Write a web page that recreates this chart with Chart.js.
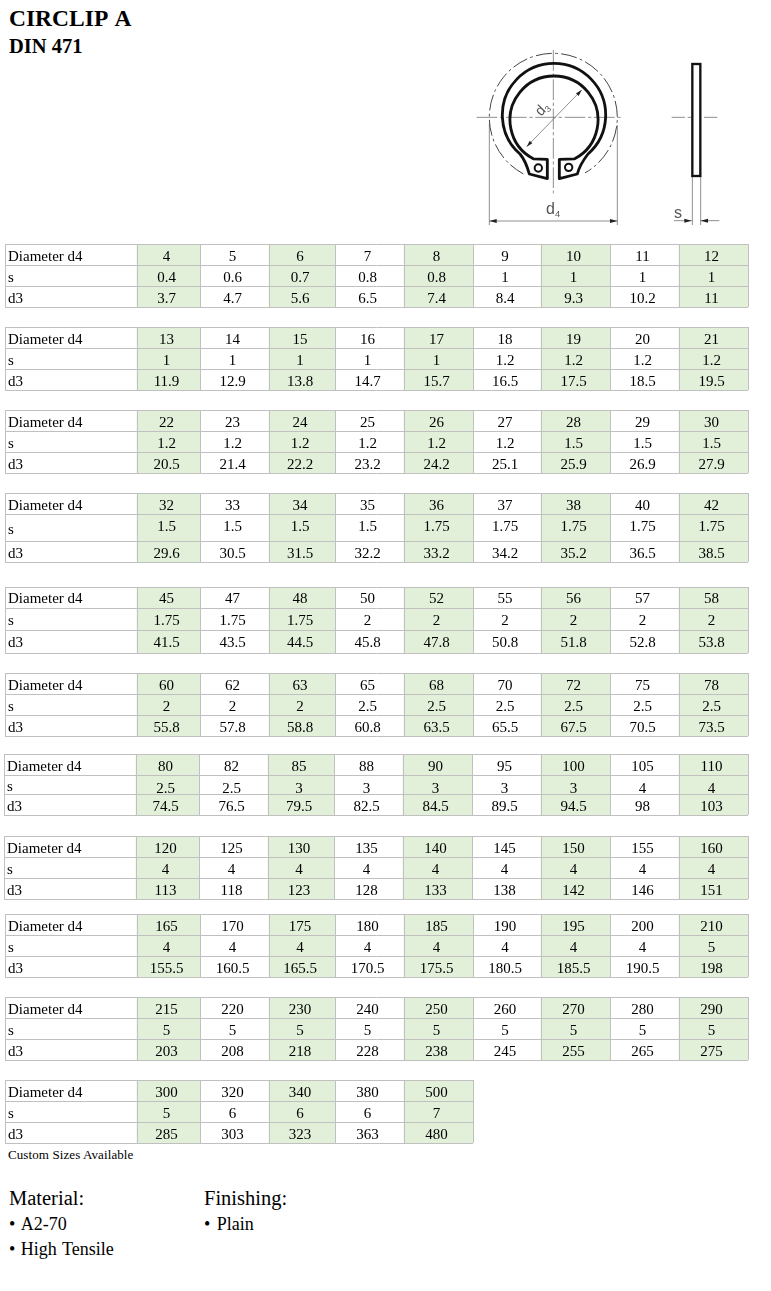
<!DOCTYPE html>
<html>
<head>
<meta charset="utf-8">
<title>Circlip A DIN 471</title>
<script src="https://cdn.jsdelivr.net/npm/chart.js@4"></script>
<style>
    html, body { margin: 0; padding: 0; background: #fff; }
    body { position: relative; width: 771px; height: 1291px; overflow: hidden; font-family: "Liberation Serif", serif; color: #000; }
    canvas { position: absolute; left: 0; }
    .txt { position: absolute; white-space: nowrap; line-height: 1; }
    svg { position: absolute; left: 470px; top: 40px; }
</style>
</head>
<body>

<div class="txt" style="left:9px;top:7px;font-size:23.5px;font-weight:bold;word-spacing:3px">CIRCLIP A</div>
<div class="txt" style="left:9px;top:36px;font-size:20.5px;font-weight:bold">DIN 471</div>

<svg width="260" height="200" viewBox="0 0 780 600" fill="none" style="filter:blur(0.4px)">
    <g stroke="#666" stroke-width="2.2">
        <path d="M20 232H460M250 30V460" stroke-dasharray="62 8 10 8"/>
        <path d="M605 232H665M702 232H748" stroke-dasharray="40 8 10 8"/>
        <path d="M58 250V555M442 255V555M667 408V555M692 408V555"/>
        <path d="M170 320L335 150M58 543H442M612 542H665M692 542H748"/>
    </g>
    <path d="M160 401.6A192 192 0 1 1 345 398.8" stroke="#444" stroke-width="3" stroke-dasharray="48 10 8 10"/>
    <g fill="#222">
        <path d="M335 150L318 160L326 168Z"/>
        <path d="M170 320L187 310L179 302Z"/>
        <path d="M58 543L80 537V549Z"/>
        <path d="M442 543L420 537V549Z"/>
        <path d="M665 542L643 536V548Z"/>
        <path d="M692 542L714 536V548Z"/>
    </g>
    <path d="M232 358L190 356.5A132 132 0 1 1 314 356.5L268 358V416L322 402C328 380 340 360 354 342A155 155 0 1 0 150 342C165 360 172 380 178 402L232 416Z" stroke="#111" stroke-width="8.5" stroke-linejoin="round"/>
    <circle cx="205" cy="384" r="11" stroke="#111" stroke-width="6"/>
    <circle cx="296" cy="382" r="11" stroke="#111" stroke-width="6"/>
    <rect x="667" y="72" width="24" height="336" fill="#fff" stroke="#111" stroke-width="7"/>
    <g fill="#555" font-family="Liberation Sans, sans-serif">
        <text x="228" y="522" font-size="48">d<tspan font-size="28" dy="9">4</tspan></text>
        <text x="612" y="534" font-size="48">s</text>
        <text transform="translate(212 230) rotate(-45)" font-size="44">d<tspan font-size="26" dy="8">3</tspan></text>
    </g>
</svg>

<div class="txt" style="left:8px;top:1148px;font-size:13px;letter-spacing:0.1px">Custom Sizes Available</div>
<div class="txt" style="left:9px;top:1188px;font-size:20.5px">Material:</div>
<div class="txt" style="left:204px;top:1188px;font-size:20.5px">Finishing:</div>
<div class="txt" style="left:9px;top:1215px;font-size:18px;word-spacing:2px">• A2-70</div>
<div class="txt" style="left:9px;top:1240px;font-size:18px;word-spacing:1px">• High Tensile</div>
<div class="txt" style="left:204px;top:1215px;font-size:18px;word-spacing:2px">• Plain</div>

<script>

const rowLabels = ['Diameter d4', 's', 'd3'];

const d4Values = [
    ['4', '5', '6', '7', '8', '9', '10', '11', '12'],
    ['13', '14', '15', '16', '17', '18', '19', '20', '21'],
    ['22', '23', '24', '25', '26', '27', '28', '29', '30'],
    ['32', '33', '34', '35', '36', '37', '38', '40', '42'],
    ['45', '47', '48', '50', '52', '55', '56', '57', '58'],
    ['60', '62', '63', '65', '68', '70', '72', '75', '78'],
    ['80', '82', '85', '88', '90', '95', '100', '105', '110'],
    ['120', '125', '130', '135', '140', '145', '150', '155', '160'],
    ['165', '170', '175', '180', '185', '190', '195', '200', '210'],
    ['215', '220', '230', '240', '250', '260', '270', '280', '290'],
    ['300', '320', '340', '380', '500']
];

const sValues = [
    ['0.4', '0.6', '0.7', '0.8', '0.8', '1', '1', '1', '1'],
    ['1', '1', '1', '1', '1', '1.2', '1.2', '1.2', '1.2'],
    ['1.2', '1.2', '1.2', '1.2', '1.2', '1.2', '1.5', '1.5', '1.5'],
    ['1.5', '1.5', '1.5', '1.5', '1.75', '1.75', '1.75', '1.75', '1.75'],
    ['1.75', '1.75', '1.75', '2', '2', '2', '2', '2', '2'],
    ['2', '2', '2', '2.5', '2.5', '2.5', '2.5', '2.5', '2.5'],
    ['2.5', '2.5', '3', '3', '3', '3', '3', '4', '4'],
    ['4', '4', '4', '4', '4', '4', '4', '4', '4'],
    ['4', '4', '4', '4', '4', '4', '4', '4', '5'],
    ['5', '5', '5', '5', '5', '5', '5', '5', '5'],
    ['5', '6', '6', '6', '7']
];

const d3Values = [
    ['3.7', '4.7', '5.6', '6.5', '7.4', '8.4', '9.3', '10.2', '11'],
    ['11.9', '12.9', '13.8', '14.7', '15.7', '16.5', '17.5', '18.5', '19.5'],
    ['20.5', '21.4', '22.2', '23.2', '24.2', '25.1', '25.9', '26.9', '27.9'],
    ['29.6', '30.5', '31.5', '32.2', '33.2', '34.2', '35.2', '36.5', '38.5'],
    ['41.5', '43.5', '44.5', '45.8', '47.8', '50.8', '51.8', '52.8', '53.8'],
    ['55.8', '57.8', '58.8', '60.8', '63.5', '65.5', '67.5', '70.5', '73.5'],
    ['74.5', '76.5', '79.5', '82.5', '84.5', '89.5', '94.5', '98', '103'],
    ['113', '118', '123', '128', '133', '138', '142', '146', '151'],
    ['155.5', '160.5', '165.5', '170.5', '175.5', '180.5', '185.5', '190.5', '198'],
    ['203', '208', '218', '228', '238', '245', '255', '265', '275'],
    ['285', '303', '323', '363', '480']
];

// table layout, the source table is a bit uneven so it is measured per block
const blockTops = [244, 327, 410, 493, 587, 673, 754, 836, 914, 997, 1080];
const rowHeights = [
    [21, 21, 21], [21, 21, 21], [21, 21, 21], [21, 27, 21], [21, 22, 23], [21, 21, 21],
    [21, 19, 21], [21, 21, 21], [21, 21, 21], [21, 21, 21], [21, 21, 21]
];
const numberBaselines = [
    [17, 17, 17], [17, 17, 17], [17, 17, 17], [17, 17, 17], [16, 17, 17], [17, 17, 17],
    [17, 18, 17], [17, 17, 17], [17, 17, 17], [17, 17, 17], [17, 17, 17]
];
const labelBaselines = [
    [17, 17, 17], [17, 17, 17], [17, 17, 17], [17, 20, 17], [16, 17, 17], [17, 17, 17],
    [17, 16, 17], [17, 17, 17], [17, 17, 17], [17, 17, 17], [17, 17, 17]
];
const tableLeft = [5, 5, 5, 5, 5, 5, 4, 4, 5, 5, 5];
const colWidths = [132, 63, 69, 66, 69, 69, 68, 69, 69, 69];
const colWidthsShifted = [132, 63, 69, 66, 69, 69, 69, 69, 69, 69];

const greenCell = '#e2efd9';
const cellBorder = '#c0c0c0';
const cellFont = '15px "Liberation Serif"';

const cellText = {
    id: 'cellText',
    afterDraw(chart, args, opts) {
        const ctx = chart.ctx;
        const x = chart.scales.x;
        const y = chart.scales.y;
        ctx.save();
        ctx.font = cellFont;
        ctx.fillStyle = '#000';
        ctx.textBaseline = 'alphabetic';
        opts.rows.forEach((row, r) => {
            ctx.textAlign = 'left';
            ctx.fillText(rowLabels[r], x.getPixelForValue(0) + 3, y.getPixelForValue(opts.rowEdges[r] + opts.labelBase[r]));
            ctx.textAlign = 'center';
            row.forEach((val, c) => {
                const mid = (opts.colEdges[c + 1] + opts.colEdges[c + 2]) / 2;
                ctx.fillText(val, x.getPixelForValue(mid) - 2, y.getPixelForValue(opts.rowEdges[r] + opts.numberBase[r]));
            });
        });
        ctx.restore();
    }
};

function cumulative(sizes) {
    const edges = [0];
    for (const size of sizes) {
        edges.push(edges[edges.length - 1] + size);
    }
    return edges;
}

function init_block(i) {
    const elem = document.createElement('canvas');
    const widths = (tableLeft[i] === 4 ? colWidthsShifted : colWidths).slice(0, d4Values[i].length + 1);
    const colEdges = cumulative(widths);
    const rowEdges = cumulative(rowHeights[i]);
    const tableW = colEdges[colEdges.length - 1];
    const tableH = rowEdges[rowEdges.length - 1];

    elem.width = 771;
    elem.height = tableH + 4;
    elem.style.top = (blockTops[i] - 2) + 'px';
    document.body.appendChild(elem);

    // every other column is a green floating bar over the full table height
    const datasets = [];
    d4Values[i].forEach((val, c) => {
        if (c % 2 === 0) {
            datasets.push({
                label: 'd4 ' + val,
                data: [{ x: (colEdges[c + 1] + colEdges[c + 2]) / 2, y: [0, tableH] }],
                barThickness: widths[c + 1],
                backgroundColor: greenCell,
                borderWidth: 0
            });
        }
    });

    return new Chart(elem.getContext('2d'), {
        type: 'bar',
        data: { datasets: datasets },
        plugins: [cellText],
        options: {
            responsive: false,
            animation: false,
            devicePixelRatio: 1,
            grouped: false,
            layout: {
                padding: { left: tableLeft[i], right: 771 - tableLeft[i] - tableW, top: 2, bottom: 2 }
            },
            scales: {
                x: {
                    type: 'linear',
                    min: 0,
                    max: tableW,
                    offset: false,
                    afterBuildTicks: (scale) => { scale.ticks = colEdges.map(value => ({ value })); },
                    ticks: { display: false },
                    border: { display: false },
                    grid: { offset: false, color: cellBorder, lineWidth: 1, drawTicks: false, z: 1 }
                },
                y: {
                    reverse: true,
                    min: 0,
                    max: tableH,
                    afterBuildTicks: (scale) => { scale.ticks = rowEdges.map(value => ({ value })); },
                    ticks: { display: false },
                    border: { display: false },
                    grid: { color: cellBorder, lineWidth: 1, drawTicks: false, z: 1 }
                }
            },
            plugins: {
                legend: { display: false },
                title: { display: false },
                tooltip: { enabled: false },
                cellText: {
                    rows: [d4Values[i], sValues[i], d3Values[i]],
                    colEdges: colEdges,
                    rowEdges: rowEdges,
                    numberBase: numberBaselines[i],
                    labelBase: labelBaselines[i]
                }
            }
        }
    });
}

for (let i = 0; i < d4Values.length; i++) {
    init_block(i);
}

</script>
</body>
</html>
